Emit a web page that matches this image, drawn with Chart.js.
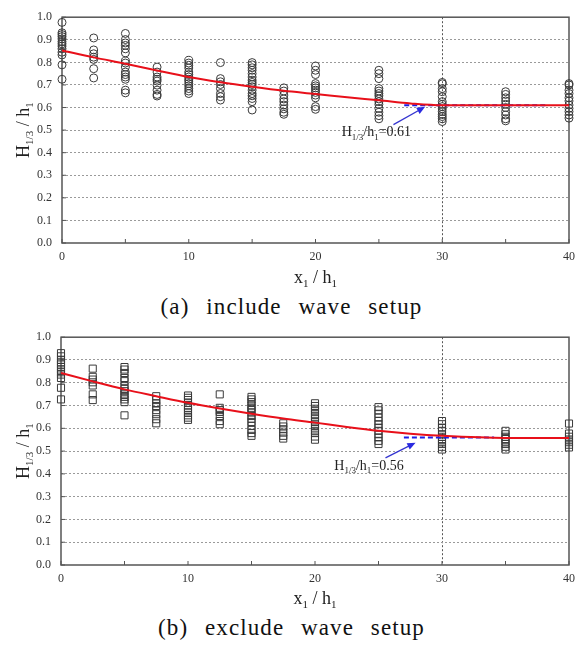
<!DOCTYPE html>
<html>
<head>
<meta charset="utf-8">
<script src="https://cdn.jsdelivr.net/npm/chart.js@4/dist/chart.umd.min.js"></script>
<style>
  body { margin: 0; width: 583px; height: 645px; background: #fff; position: relative; overflow: hidden; font-family: "Liberation Serif", serif; }
  .panel { position: absolute; left: 0; width: 583px; height: 292px; }
  .caption { position: absolute; left: 0; width: 583px; text-align: center; font-size: 23px; line-height: 26px; color: #111; word-spacing: 10px; letter-spacing: 1.1px; }
</style>
</head>
<body>
<div class="panel" style="top:0"><canvas id="chartA" width="583" height="292"></canvas></div>
<div class="caption" style="top:294px">(a) include wave setup</div>
<div class="panel" style="top:320px"><canvas id="chartB" width="583" height="292"></canvas></div>
<div class="caption" style="top:615px">(b) exclude wave setup</div>
<script>
// measuring stations x1/h1
const stations = [0, 2.5, 5, 7.5, 10, 12.5, 15, 17.5, 20, 25, 30, 35, 40];

// H1/3/h1, one list per station - (a) include wave setup
const includeValues = [
  [0.977, 0.931, 0.923, 0.914, 0.904, 0.892, 0.882, 0.872, 0.860, 0.845, 0.833, 0.789, 0.725],
  [0.908, 0.855, 0.838, 0.823, 0.813, 0.772, 0.731],
  [0.928, 0.901, 0.886, 0.875, 0.860, 0.842, 0.806, 0.797, 0.779, 0.757, 0.746, 0.735, 0.725, 0.677, 0.665],
  [0.779, 0.757, 0.735, 0.725, 0.717, 0.699, 0.677, 0.658, 0.651],
  [0.809, 0.797, 0.787, 0.775, 0.757, 0.746, 0.735, 0.725, 0.717, 0.706, 0.696, 0.684, 0.673, 0.662],
  [0.799, 0.728, 0.714, 0.702, 0.684, 0.662, 0.648, 0.633],
  [0.799, 0.789, 0.776, 0.765, 0.750, 0.735, 0.721, 0.711, 0.702, 0.692, 0.677, 0.662, 0.652, 0.640, 0.626, 0.589],
  [0.687, 0.673, 0.655, 0.638, 0.626, 0.611, 0.594, 0.579, 0.570],
  [0.784, 0.765, 0.746, 0.706, 0.696, 0.687, 0.677, 0.667, 0.655, 0.643, 0.604, 0.592],
  [0.765, 0.750, 0.728, 0.684, 0.673, 0.662, 0.652, 0.638, 0.626, 0.614, 0.596, 0.579, 0.564, 0.550],
  [0.711, 0.705, 0.684, 0.670, 0.648, 0.626, 0.614, 0.604, 0.594, 0.582, 0.570, 0.560, 0.550, 0.538],
  [0.670, 0.658, 0.643, 0.629, 0.614, 0.600, 0.582, 0.567, 0.550, 0.541],
  [0.706, 0.700, 0.677, 0.662, 0.643, 0.629, 0.611, 0.596, 0.582, 0.567, 0.553]
];

// (b) exclude wave setup
const excludeValues = [
  [0.930, 0.916, 0.901, 0.890, 0.880, 0.869, 0.858, 0.846, 0.836, 0.821, 0.778, 0.727],
  [0.862, 0.826, 0.814, 0.802, 0.788, 0.749, 0.724],
  [0.869, 0.858, 0.843, 0.821, 0.807, 0.785, 0.773, 0.763, 0.749, 0.738, 0.727, 0.715, 0.657],
  [0.741, 0.724, 0.709, 0.698, 0.680, 0.662, 0.640, 0.622],
  [0.744, 0.734, 0.724, 0.712, 0.701, 0.690, 0.680, 0.669, 0.657, 0.647, 0.637],
  [0.749, 0.690, 0.680, 0.672, 0.654, 0.632, 0.618],
  [0.738, 0.727, 0.715, 0.701, 0.690, 0.680, 0.669, 0.654, 0.642, 0.628, 0.611, 0.593, 0.579, 0.567],
  [0.622, 0.608, 0.596, 0.581, 0.567, 0.555],
  [0.710, 0.698, 0.686, 0.675, 0.662, 0.651, 0.640, 0.628, 0.616, 0.603, 0.589, 0.579, 0.564, 0.550],
  [0.693, 0.679, 0.664, 0.647, 0.632, 0.618, 0.603, 0.589, 0.574, 0.560, 0.545, 0.531],
  [0.632, 0.618, 0.603, 0.589, 0.574, 0.563, 0.553, 0.542, 0.531, 0.519, 0.507],
  [0.589, 0.574, 0.563, 0.553, 0.542, 0.531, 0.519, 0.507],
  [0.621, 0.577, 0.563, 0.551, 0.539, 0.528, 0.516]
];

// fitted curves
const fitX = [0, 2.5, 5, 7.5, 10, 12.5, 15, 17.5, 20, 22.5, 25, 27.5, 30, 35, 40];
const fitInclude = [0.853, 0.822, 0.794, 0.764, 0.735, 0.712, 0.692, 0.674, 0.660, 0.645, 0.632, 0.618, 0.610, 0.610, 0.610];
const fitExclude = [0.843, 0.806, 0.771, 0.741, 0.712, 0.687, 0.664, 0.643, 0.625, 0.606, 0.589, 0.576, 0.567, 0.558, 0.558];

const plateauInclude = 0.61;
const plateauExclude = 0.56;

const yTicks = [0, 0.1, 0.2, 0.3, 0.4, 0.5, 0.6, 0.7, 0.8, 0.9, 1.0];
const xMinorTicks = [0, 5, 10, 15, 20, 25, 30, 35, 40];
const xLabels = [0, 10, 20, 30, 40];

const SERIF = '"Liberation Serif", "DejaVu Serif", serif';

// text with subscripts, centred on x, baseline y
function drawRich(ctx, parts, x, y, size) {
  const big = size + 'px ' + SERIF;
  const small = Math.round(size * 0.62) + 'px ' + SERIF;
  let w = 0;
  parts.forEach(([t, sub]) => { ctx.font = sub ? small : big; w += ctx.measureText(t).width; });
  let cx = x - w / 2;
  ctx.textAlign = 'left';
  ctx.textBaseline = 'alphabetic';
  parts.forEach(([t, sub]) => {
    ctx.font = sub ? small : big;
    ctx.fillText(t, cx, y + (sub ? size * 0.22 : 0));
    cx += ctx.measureText(t).width;
  });
}

const framePlugin = {
  id: 'frame',
  beforeDatasetsDraw(chart) {
    const { ctx, chartArea: a, scales: { x, y } } = chart;
    ctx.save();
    ctx.strokeStyle = '#555';
    ctx.lineWidth = 1.5;
    ctx.strokeRect(a.left, a.top, a.right - a.left, a.bottom - a.top);
    ctx.lineWidth = 1;
    ctx.beginPath();
    x.ticks.forEach(t => {
      const px = x.getPixelForValue(t.value);
      ctx.moveTo(px, a.bottom); ctx.lineTo(px, a.bottom - 4);
    });
    y.ticks.forEach(t => {
      const py = y.getPixelForValue(t.value);
      ctx.moveTo(a.left, py); ctx.lineTo(a.left + 4, py);
    });
    ctx.stroke();
    ctx.restore();
  }
};

const labelsPlugin = {
  id: 'richLabels',
  afterDraw(chart) {
    const { ctx, chartArea: a, scales: { x, y } } = chart;
    const note = chart.options.plugins.richLabels;
    ctx.save();
    ctx.fillStyle = '#222';
    // y title
    ctx.save();
    ctx.translate(23, (a.top + a.bottom) / 2);
    ctx.rotate(-Math.PI / 2);
    drawRich(ctx, [['H', 0], ['1/3', 1], [' / ', 0], ['h', 0], ['1', 1]], 0, 6, 18);
    ctx.restore();
    // x title
    drawRich(ctx, [['x', 0], ['1', 1], [' / ', 0], ['h', 0], ['1', 1]], (a.left + a.right) / 2, note.xTitleY, 18);

    // arrow
    const tx = x.getPixelForValue(note.tail[0]), ty = y.getPixelForValue(note.tail[1]);
    const hx = x.getPixelForValue(note.head[0]), hy = y.getPixelForValue(note.head[1]);
    const ang = Math.atan2(hy - ty, hx - tx);
    ctx.strokeStyle = '#3535d0';
    ctx.fillStyle = '#2a2ae0';
    ctx.lineWidth = 1.3;
    ctx.beginPath();
    ctx.moveTo(tx, ty);
    ctx.lineTo(hx - 6 * Math.cos(ang), hy - 6 * Math.sin(ang));
    ctx.stroke();
    ctx.beginPath();
    ctx.moveTo(hx, hy);
    ctx.lineTo(hx - 9 * Math.cos(ang - 0.4), hy - 9 * Math.sin(ang - 0.4));
    ctx.lineTo(hx - 9 * Math.cos(ang + 0.4), hy - 9 * Math.sin(ang + 0.4));
    ctx.closePath();
    ctx.fill();

    // value label
    ctx.fillStyle = '#222';
    drawRich(ctx, [['H', 0], ['1/3', 1], ['/h', 0], ['1', 1], ['=' + note.value.toFixed(2), 0]],
      x.getPixelForValue(note.at[0]), y.getPixelForValue(note.at[1]) + 5, 14);
    ctx.restore();
  }
};

function makeChart(id, values, fit, plateau, pointStyle, radius, lay, note) {
  const points = [];
  stations.forEach((s, i) => values[i].forEach(v => points.push({ x: s, y: v })));

  new Chart(document.getElementById(id), {
    type: 'scatter',
    data: {
      datasets: [{
        data: points,
        pointStyle: pointStyle,
        pointRadius: radius,
        borderColor: '#3a3a3a',
        borderWidth: 1,
        backgroundColor: 'rgba(0,0,0,0)',
        clip: false,
        order: 4
      }, {
        type: 'line',
        data: [{ x: note.dashFrom, y: plateau }, { x: note.dashTo, y: plateau }],
        borderColor: '#1e1ee6',
        borderWidth: 2,
        borderDash: [5, 3],
        pointRadius: 0,
        order: 2
      }, {
        type: 'line',
        data: fitX.map((v, i) => ({ x: v, y: fit[i] })),
        borderColor: '#e8101a',
        borderWidth: 2,
        cubicInterpolationMode: 'monotone',
        pointRadius: 0,
        order: 1
      }]
    },
    options: {
      responsive: false,
      animation: false,
      layout: { padding: { top: lay.top, right: 14, left: 0, bottom: 0 } },
      plugins: {
        legend: { display: false },
        tooltip: { enabled: false },
        richLabels: Object.assign({ value: plateau, xTitleY: lay.xTitleY }, note)
      },
      scales: {
        x: {
          type: 'linear',
          min: 0,
          max: 40,
          afterFit: s => { s.height = lay.xHeight; },
          afterBuildTicks: s => { s.ticks = xMinorTicks.map(v => ({ value: v })); },
          ticks: {
            autoSkip: false,
            maxRotation: 0,
            padding: 7,
            color: '#333',
            font: { family: SERIF, size: 12 },
            callback: v => xLabels.includes(v) ? String(v) : ''
          },
          grid: {
            drawTicks: false,
            lineWidth: 1,
            color: c => (c.tick && c.tick.value === 30) ? '#555' : 'rgba(0,0,0,0)'
          },
          border: { display: false, dash: [2, 2] }
        },
        y: {
          min: 0,
          max: 1,
          afterFit: s => { s.width = lay.left; },
          afterBuildTicks: s => { s.ticks = yTicks.map(v => ({ value: v })); },
          ticks: {
            padding: 10,
            color: '#333',
            font: { family: SERIF, size: 12 },
            callback: v => Number(v).toFixed(1)
          },
          grid: {
            drawTicks: false,
            lineWidth: 1,
            color: c => (c.tick && (c.tick.value <= 0.001 || c.tick.value >= 0.999)) ? 'rgba(0,0,0,0)' : '#9a9a9a'
          },
          border: { display: false, dash: [2, 2] }
        }
      }
    },
    plugins: [framePlugin, labelsPlugin]
  });
}

makeChart('chartA', includeValues, fitInclude, plateauInclude, 'circle', 4,
  { top: 15, left: 62, xHeight: 49, xTitleY: 283 },
  { dashFrom: 27, dashTo: 38.3, tail: [26.15, 0.524], head: [28.65, 0.603], at: [24.8, 0.494] });

makeChart('chartB', excludeValues, fitExclude, plateauExclude, 'rect', 5,
  { top: 16, left: 61, xHeight: 47, xTitleY: 284 },
  { dashFrom: 27, dashTo: 34.1, tail: [25.55, 0.470], head: [27.92, 0.537], at: [24.25, 0.44] });
</script>
</body>
</html>
